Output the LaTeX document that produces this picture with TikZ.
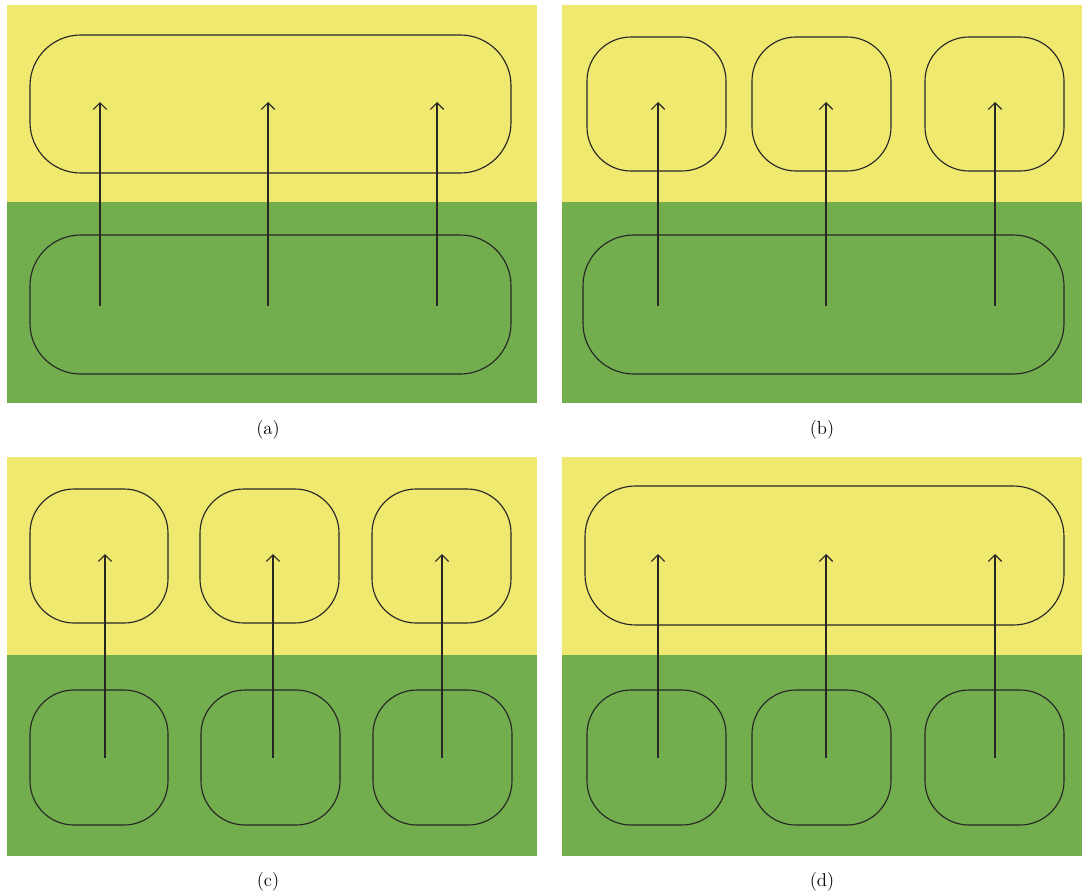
\documentclass[tikz,border=0pt]{standalone}
\usetikzlibrary{arrows.meta}
\definecolor{ylw}{RGB}{240,233,112}
\definecolor{grn}{RGB}{114,174,77}
\tikzset{
  box/.style={draw=black!85, line width=0.85pt},
  bigbox/.style={box, rounded corners=38pt},
  smallbox/.style={box, rounded corners=33pt},
  up/.style={draw=black!85, line width=0.85pt, -{Straight Barb[length=5pt,width=10pt]}},
  lbl/.style={font=\fontsize{14}{16}\selectfont, inner sep=0pt}
}
\begin{document}
\begin{tikzpicture}[x=0.75pt,y=-0.75pt]
\useasboundingbox (0,0) rectangle (1082,896);
% backgrounds
\foreach \xa/\xb in {7/537,562/1082}{
  \fill[ylw] (\xa,5) rectangle (\xb,202);
  \fill[grn] (\xa,202) rectangle (\xb,403);
  \fill[ylw] (\xa,457) rectangle (\xb,655);
  \fill[grn] (\xa,655) rectangle (\xb,856);
}
% (a)
\draw[bigbox] (30,35) rectangle (511,173);
\draw[bigbox] (30,235) rectangle (511,374);
\foreach \x [count=\i] in {100,268,437}{
  \coordinate (as\i) at (\x,306); \coordinate (ae\i) at (\x,102);
  \draw[up] (as\i) -- (ae\i);
}
\node[lbl] (la) at (268,430) {(a)};
% (b)
\foreach \xa/\xb in {587/726,752/891,925/1064}{
  \draw[smallbox] (\xa,37) rectangle (\xb,171);
}
\draw[bigbox] (583,235) rectangle (1064,374);
\foreach \x [count=\i] in {658,826,995}{
  \coordinate (bs\i) at (\x,306); \coordinate (be\i) at (\x,102);
  \draw[up] (bs\i) -- (be\i);
}
\node[lbl] (lb) at (822,430) {(b)};
% (c)
\foreach \xa/\xb in {30/168,200/339,372/511}{
  \draw[smallbox] (\xa,489) rectangle (\xb,623);
}
\foreach \xa/\xb in {30/168,201/340,373/512}{
  \draw[smallbox] (\xa,690) rectangle (\xb,825);
}
\foreach \x [count=\i] in {105,273,442}{
  \coordinate (cs\i) at (\x,758); \coordinate (ce\i) at (\x,554);
  \draw[up] (cs\i) -- (ce\i);
}
\node[lbl] (lc) at (268,882) {(c)};
% (d)
\draw[bigbox] (585,486) rectangle (1064,625);
\foreach \xa/\xb in {587/726,752/891,925/1064}{
  \draw[smallbox] (\xa,690) rectangle (\xb,825);
}
\foreach \x [count=\i] in {658,826,995}{
  \coordinate (ds\i) at (\x,758); \coordinate (de\i) at (\x,554);
  \draw[up] (ds\i) -- (de\i);
}
\node[lbl] (ld) at (822,882) {(d)};
\end{tikzpicture}
\end{document}
